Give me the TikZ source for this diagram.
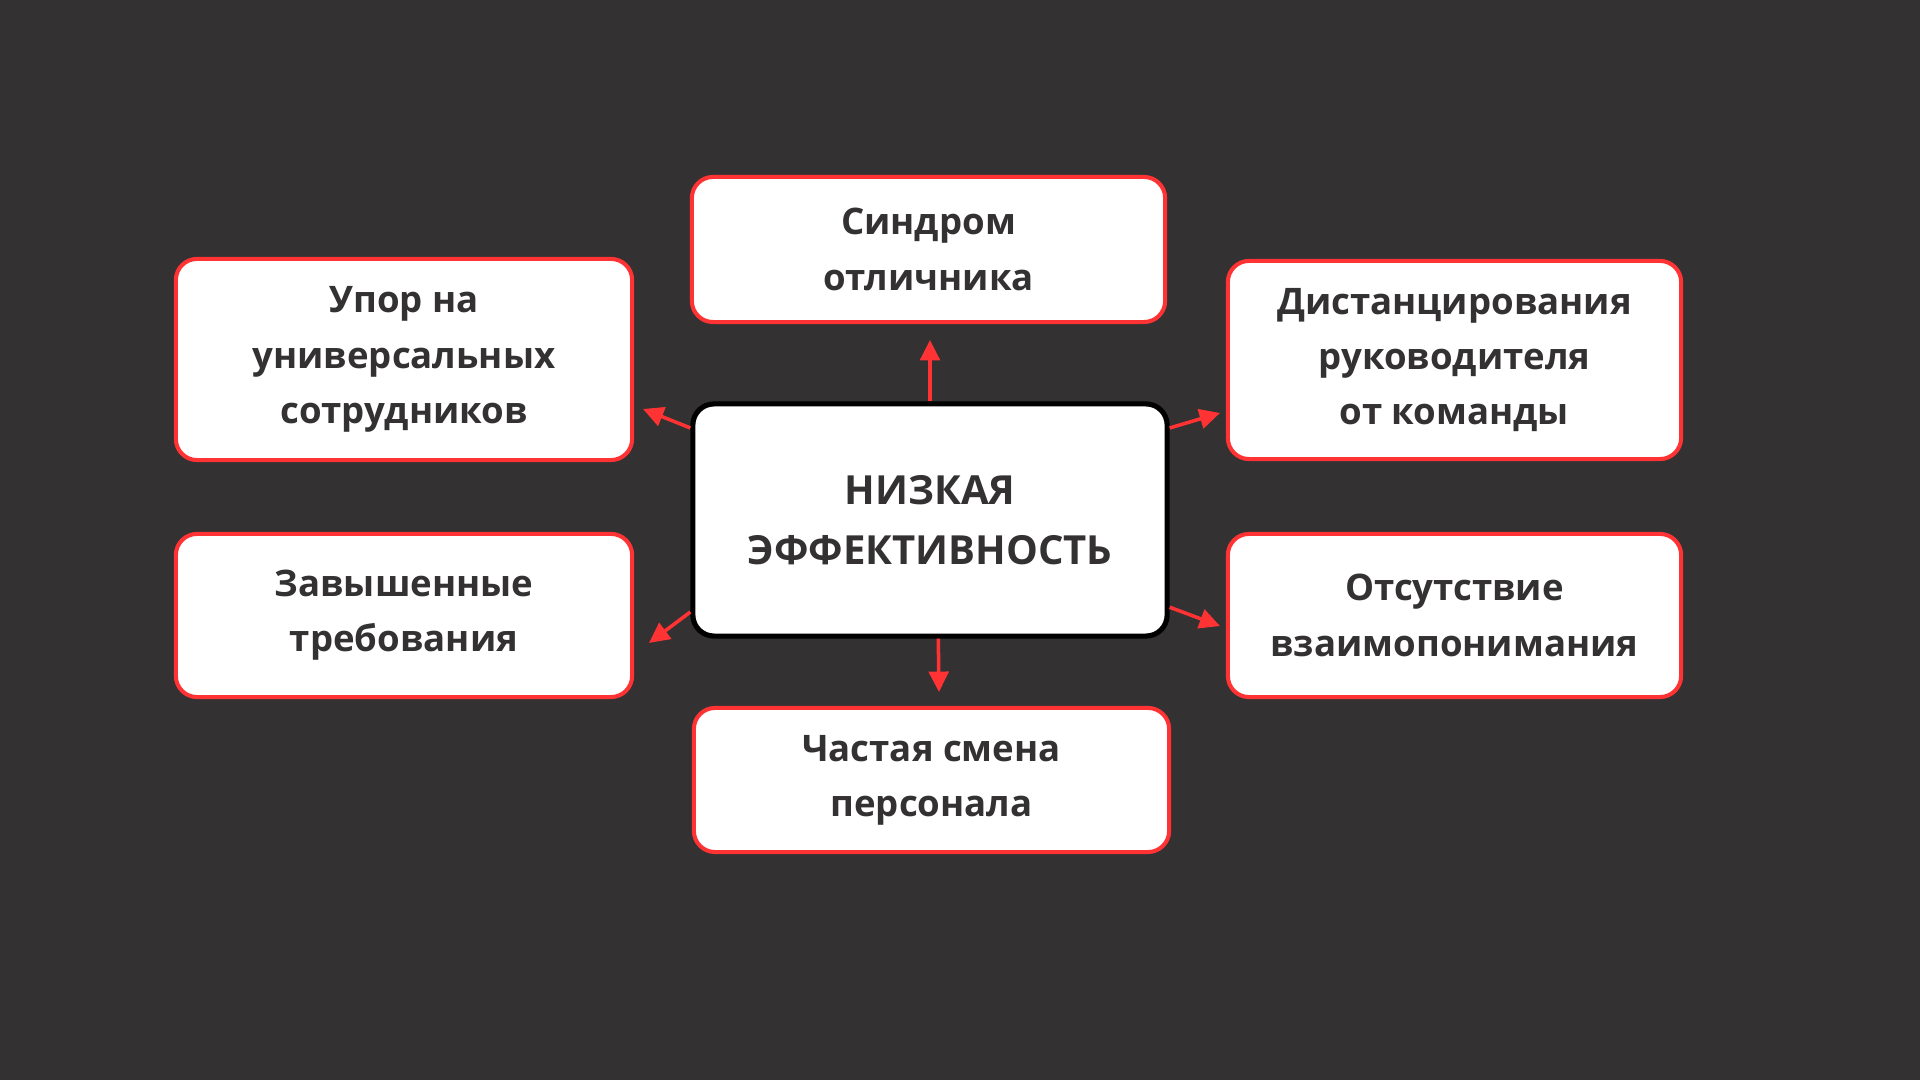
\documentclass[tikz,border=0pt]{standalone}
\usepackage{fontspec}
\setmainfont{Open Sans}
\usetikzlibrary{arrows.meta}
\definecolor{bg}{RGB}{51,49,50}
\definecolor{ink}{RGB}{51,49,50}
\definecolor{redline}{RGB}{255,51,51}
\tikzset{
  box/.style={draw=redline, line width=1.15pt, fill=white, rounded corners=6pt,
    align=center, text=ink, font=\bfseries\fontsize{10.4}{15.7}\selectfont},
  mainbox/.style={box, draw=black, line width=1.45pt,
    font=\bfseries\fontsize{11.4}{17}\selectfont},
  link/.style={redline, line width=1pt, -{Triangle[length=5.8pt,width=5.6pt]}}
}
\begin{document}
\begin{tikzpicture}[x=0.01cm,y=-0.01cm]
      \fill[bg] (0,0) rectangle (1920,1080);
      \useasboundingbox (0,0) rectangle (1920,1080);
      \draw
        (930,520) node[mainbox, minimum width=4.74cm, minimum height=2.32cm] (0){НИЗКАЯ\\ЭФФЕКТИВНОСТЬ}
        (928.5,249.5) node[box, minimum width=4.73cm, minimum height=1.45cm] (1){Синдром\\отличника}
        (404,359.5) node[box, minimum width=4.56cm, minimum height=2.01cm] (2){Упор на\\универсальных\\сотрудников}
        (1454.5,360) node[box, minimum width=4.53cm, minimum height=1.98cm] (3){Дистанцирования\\руководителя\\от команды}
        (404,615.5) node[box, minimum width=4.56cm, minimum height=1.63cm] (4){Завышенные\\требования}
        (1454.5,615.5) node[box, minimum width=4.53cm, minimum height=1.63cm] (5){Отсутствие\\взаимопонимания}
        (931.5,780) node[box, minimum width=4.75cm, minimum height=1.44cm] (6){Частая смена\\персонала};
      \coordinate (t1) at (930,340);
      \coordinate (t2) at (643,409);
      \coordinate (t3) at (1220,413);
      \coordinate (t4) at (649,643);
      \coordinate (t5) at (1220,626);
      \coordinate (t6) at (939,692);
      \begin{scope}[link]
        \draw (0.north) to (t1);
        \draw (0.159) to (t2);
        \draw (0.21) to (t3);
        \draw (0.201) to (t4);
        \draw (0.340) to (t5);
        \draw (0.274) to (t6);
      \end{scope}
    \end{tikzpicture}
\end{document}
